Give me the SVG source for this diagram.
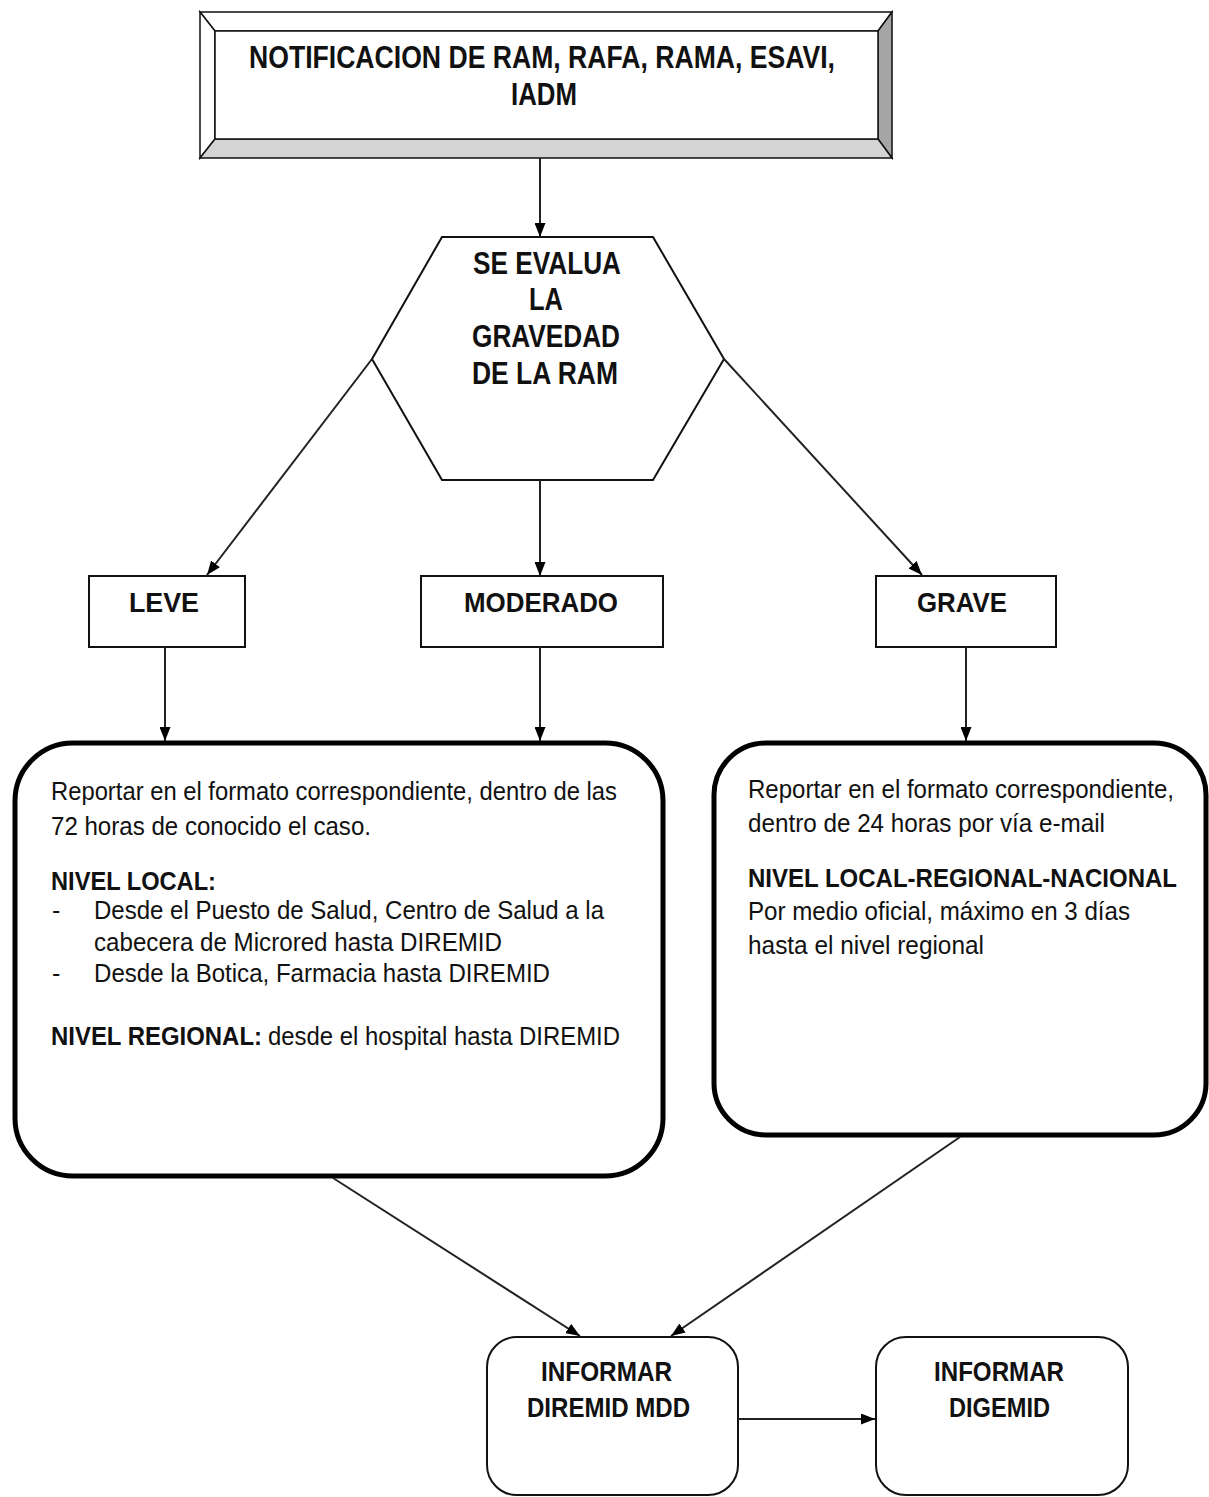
<svg xmlns="http://www.w3.org/2000/svg" width="1209" height="1497" viewBox="0 0 1209 1497">
<defs>
<style>
.t{font-family:"Liberation Sans Narrow","Liberation Sans",Arial,sans-serif;fill:#111;}
.b{font-weight:bold;}
.big{font-size:31px;}
.mid{font-size:28px;}
.txt{font-size:25px;}
.bev{stroke:#111;stroke-width:1.5;stroke-linejoin:miter;}
.box{fill:#fff;stroke:#111;stroke-width:2;}
.heavy{fill:#fff;stroke:#000;stroke-width:5;}
.con{fill:none;stroke:#222;stroke-width:2;}
</style>
<marker id="ah" viewBox="0 0 14 11" refX="14" refY="5.5" markerWidth="14" markerHeight="11" markerUnits="userSpaceOnUse" orient="auto">
<path d="M0,0 L14,5.5 L0,11 Z" fill="#000"/>
</marker>
</defs>
<rect width="1209" height="1497" fill="#fff"/>

<g id="n_notificacion">
<polygon class="bev" points="200,12 892,12 878,31 215,31" fill="#fff"/>
<polygon class="bev" points="200,12 215,31 215,139 200,158" fill="#fff"/>
<polygon class="bev" points="892,12 892,158 878,139 878,31" fill="#a6a6a6"/>
<polygon class="bev" points="200,158 892,158 878,139 215,139" fill="#d4d4d4"/>
<rect class="bev" x="215" y="31" width="663" height="108" fill="#fff"/>
<text class="t b big" x="249" y="68" textLength="586" lengthAdjust="spacingAndGlyphs">NOTIFICACION DE RAM, RAFA, RAMA, ESAVI,</text>
<text class="t b big" x="511" y="105" textLength="66" lengthAdjust="spacingAndGlyphs">IADM</text>
</g>

<g id="n_evalua">
<polygon class="box" points="442,237 653,237 724,359 653,480 442,480 372,359"/>
<text class="t b big" x="473" y="274" textLength="148" lengthAdjust="spacingAndGlyphs">SE EVALUA</text>
<text class="t b big" x="529" y="310" textLength="34" lengthAdjust="spacingAndGlyphs">LA</text>
<text class="t b big" x="472" y="347" textLength="148" lengthAdjust="spacingAndGlyphs">GRAVEDAD</text>
<text class="t b big" x="472" y="384" textLength="146" lengthAdjust="spacingAndGlyphs">DE LA RAM</text>
</g>

<g id="n_leve">
<rect class="box" x="89" y="576" width="156" height="71"/>
<text class="t b mid" x="129" y="612" textLength="70" lengthAdjust="spacingAndGlyphs">LEVE</text>
</g>

<g id="n_moderado">
<rect class="box" x="421" y="576" width="242" height="71"/>
<text class="t b mid" x="464" y="612" textLength="154" lengthAdjust="spacingAndGlyphs">MODERADO</text>
</g>

<g id="n_grave">
<rect class="box" x="876" y="576" width="180" height="71"/>
<text class="t b mid" x="917" y="612" textLength="90" lengthAdjust="spacingAndGlyphs">GRAVE</text>
</g>

<g id="n_reporte72">
<rect class="heavy" x="15" y="743" width="648" height="433" rx="58" ry="58"/>
<text class="t txt" x="51" y="800" textLength="566" lengthAdjust="spacingAndGlyphs">Reportar en el formato correspondiente, dentro de las</text>
<text class="t txt" x="51" y="835" textLength="320" lengthAdjust="spacingAndGlyphs">72 horas de conocido el caso.</text>
<text class="t txt b" x="51" y="890" textLength="165" lengthAdjust="spacingAndGlyphs">NIVEL LOCAL:</text>
<text class="t txt" x="52" y="919">-</text>
<text class="t txt" x="94" y="919" textLength="510" lengthAdjust="spacingAndGlyphs">Desde el Puesto de Salud, Centro de Salud a la</text>
<text class="t txt" x="94" y="951" textLength="408" lengthAdjust="spacingAndGlyphs">cabecera de Microred hasta DIREMID</text>
<text class="t txt" x="52" y="982">-</text>
<text class="t txt" x="94" y="982" textLength="456" lengthAdjust="spacingAndGlyphs">Desde la Botica, Farmacia hasta DIREMID</text>
<text class="t txt b" x="51" y="1045" textLength="211" lengthAdjust="spacingAndGlyphs">NIVEL REGIONAL:</text>
<text class="t txt" x="268" y="1045" textLength="352" lengthAdjust="spacingAndGlyphs">desde el hospital hasta DIREMID</text>
</g>

<g id="n_reporte24">
<rect class="heavy" x="714" y="743" width="492" height="392" rx="52" ry="52"/>
<text class="t txt" x="748" y="798" textLength="426" lengthAdjust="spacingAndGlyphs">Reportar en el formato correspondiente,</text>
<text class="t txt" x="748" y="832" textLength="357" lengthAdjust="spacingAndGlyphs">dentro de 24 horas por vía e-mail</text>
<text class="t txt b" x="748" y="887" textLength="429" lengthAdjust="spacingAndGlyphs">NIVEL LOCAL-REGIONAL-NACIONAL</text>
<text class="t txt" x="748" y="920" textLength="382" lengthAdjust="spacingAndGlyphs">Por medio oficial, máximo en 3 días</text>
<text class="t txt" x="748" y="954" textLength="236" lengthAdjust="spacingAndGlyphs">hasta el nivel regional</text>
</g>

<g id="n_diremid">
<rect class="box" x="487" y="1337" width="251" height="158" rx="30" ry="30"/>
<text class="t b mid" x="541" y="1381" textLength="131" lengthAdjust="spacingAndGlyphs">INFORMAR</text>
<text class="t b mid" x="527" y="1417" textLength="163" lengthAdjust="spacingAndGlyphs">DIREMID MDD</text>
</g>

<g id="n_digemid">
<rect class="box" x="876" y="1337" width="252" height="158" rx="30" ry="30"/>
<text class="t b mid" x="934" y="1381" textLength="130" lengthAdjust="spacingAndGlyphs">INFORMAR</text>
<text class="t b mid" x="949" y="1417" textLength="101" lengthAdjust="spacingAndGlyphs">DIGEMID</text>
</g>

<g id="connectors">
<line class="con" x1="540" y1="158" x2="540" y2="237" marker-end="url(#ah)"/>
<line class="con" x1="372" y1="359" x2="207" y2="575" marker-end="url(#ah)"/>
<line class="con" x1="540" y1="480" x2="540" y2="576" marker-end="url(#ah)"/>
<line class="con" x1="724" y1="359" x2="922" y2="575" marker-end="url(#ah)"/>
<line class="con" x1="165" y1="647" x2="165" y2="741" marker-end="url(#ah)"/>
<line class="con" x1="540" y1="647" x2="540" y2="741" marker-end="url(#ah)"/>
<line class="con" x1="966" y1="647" x2="966" y2="741" marker-end="url(#ah)"/>
<line class="con" x1="333" y1="1178" x2="580" y2="1336" marker-end="url(#ah)"/>
<line class="con" x1="960" y1="1137" x2="671" y2="1336" marker-end="url(#ah)"/>
<line class="con" x1="738" y1="1419" x2="875" y2="1419" marker-end="url(#ah)"/>
</g>
</svg>
